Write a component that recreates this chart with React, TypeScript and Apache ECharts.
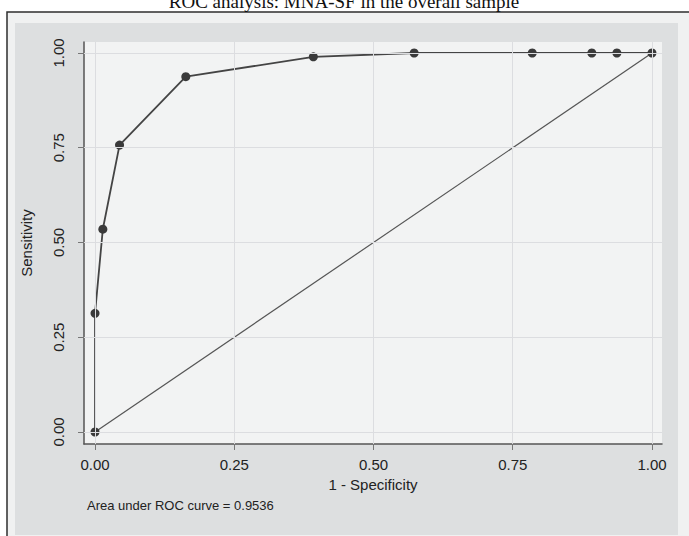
import React, { useEffect, useRef } from "react";
import * as echarts from "echarts";

const titleText = "ROC analysis: MNA-SF in the overall sample";
const xAxisTitle = "1 - Specificity";
const yAxisTitle = "Sensitivity";
const aucNote = "Area under ROC curve = 0.9536";

const tickValues = [0, 0.25, 0.5, 0.75, 1];
const falsePositiveRate = [0, 0, 0.014, 0.044, 0.163, 0.392, 0.573, 0.785, 0.892, 0.937, 1.0];
const truePositiveRate = [0, 0.313, 0.535, 0.757, 0.9375, 0.99, 1.0, 1.0, 1.0, 1.0, 1.0];
const referenceLine = [[0, 0], [1, 1]];

export default function App() {
  const ref = useRef<HTMLDivElement>(null);
  useEffect(() => {
    document.body.style.margin = "0";
    if (!ref.current) return;
    const chart = echarts.init(ref.current, null, { renderer: "svg" });
    const rocData = falsePositiveRate.map((x, i) => [x, truePositiveRate[i]]);
    const labelFont = "Liberation Sans, Arial, sans-serif";
    chart.setOption({
      animation: false,
      graphic: [
        {
          type: "rect",
          shape: { x: 7, y: 12, width: 700, height: 540 },
          style: { fill: "#f0f1f1", stroke: "#2e2e2e", lineWidth: 1.5 },
          z: -10,
        },
        {
          type: "rect",
          shape: { x: 15, y: 23, width: 663, height: 512 },
          style: { fill: "#dddfe0" },
          z: -9,
        },
        {
          type: "text",
          x: 344,
          y: 1,
          style: {
            text: titleText,
            fontFamily: "Liberation Serif, Times New Roman, serif",
            fontSize: 19,
            fill: "#111",
            align: "center",
            verticalAlign: "middle",
          },
        },
        {
          type: "text",
          x: 87,
          y: 505,
          style: {
            text: aucNote,
            fontFamily: labelFont,
            fontSize: 13,
            fill: "#222",
            align: "left",
            verticalAlign: "middle",
          },
        },
      ],
      grid: {
        left: 84,
        right: 27,
        top: 42,
        bottom: 92,
        show: true,
        backgroundColor: "#f2f3f3",
        borderWidth: 0,
      },
      xAxis: {
        type: "value",
        min: -0.0198,
        max: 1.018,
        name: xAxisTitle,
        nameLocation: "middle",
        nameGap: 32,
        nameTextStyle: { fontFamily: labelFont, fontSize: 15, color: "#222" },
        axisLine: { show: true, onZero: false, lineStyle: { color: "#555", width: 1.5 } },
        axisTick: { show: true, customValues: tickValues, length: 6, lineStyle: { color: "#777" } },
        axisLabel: {
          customValues: tickValues,
          formatter: (v: number) => v.toFixed(2),
          margin: 13,
          fontFamily: labelFont,
          fontSize: 15,
          color: "#222",
        },
        splitLine: { show: false },
      },
      yAxis: {
        type: "value",
        min: -0.0317,
        max: 1.029,
        name: yAxisTitle,
        nameLocation: "middle",
        nameGap: 50,
        nameTextStyle: { fontFamily: labelFont, fontSize: 15, color: "#222" },
        axisLine: { show: true, onZero: false, lineStyle: { color: "#555", width: 1.5 } },
        axisTick: { show: true, customValues: tickValues, length: 6, lineStyle: { color: "#777" } },
        axisLabel: {
          customValues: tickValues,
          formatter: (v: number) => v.toFixed(2),
          rotate: 90,
          margin: 18,
          fontFamily: labelFont,
          fontSize: 15,
          color: "#222",
        },
        splitLine: { show: false },
      },
      series: [
        {
          type: "line",
          data: [],
          silent: true,
          z: 1,
          markLine: {
            silent: true,
            symbol: "none",
            label: { show: false },
            lineStyle: { color: "#dcdde0", width: 1, type: "solid" },
            data: [
              ...tickValues.map((v) => ({ xAxis: v })),
              ...tickValues.map((v) => ({ yAxis: v })),
            ],
          },
        },
        {
          type: "line",
          data: referenceLine,
          showSymbol: false,
          z: 2,
          lineStyle: { color: "#555", width: 1.2 },
        },
        {
          type: "line",
          data: rocData,
          z: 3,
          symbol: "circle",
          symbolSize: 9,
          itemStyle: { color: "#3a3a3a", borderWidth: 0 },
          lineStyle: { color: "#444", width: 1.8 },
        },
      ],
    });
    return () => chart.dispose();
  }, []);
  return <div ref={ref} style={{ width: 689, height: 536 }} />;
}
